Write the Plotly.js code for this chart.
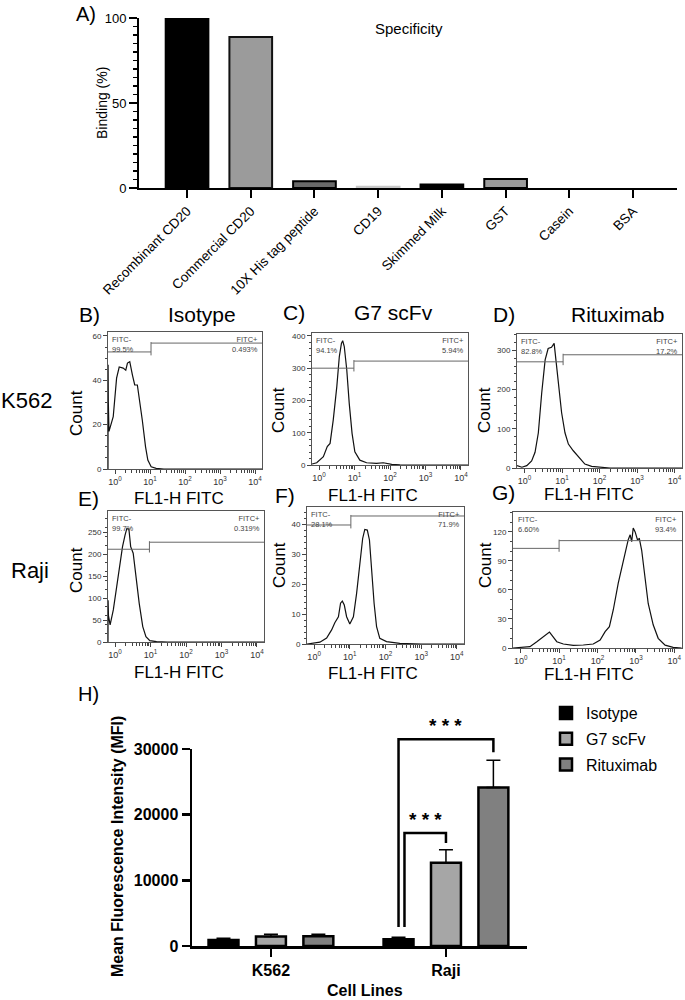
<!DOCTYPE html>
<html><head><meta charset="utf-8">
<script src="https://cdn.plot.ly/plotly-3.0.1.min.js"></script>
<style>html,body{margin:0;padding:0;background:#fff}#chart{width:685px;height:1000px}</style>
</head><body><div id="chart"></div>
<script>
// ---------- Panel A: specificity ----------
const specCategories = ['Recombinant CD20','Commercial CD20','10X His tag peptide','CD19','Skimmed Milk','GST','Casein','BSA'];
const specBinding = [100, 88.8, 3.9, 0.8, 2.0, 5.3, 0, 0];
const specTicks = [0, 50, 100];

// ---------- Panels B-G: flow cytometry histograms (FL1-H FITC vs Count) ----------
const histB_x = [0.631, 0.635, 0.645, 0.673, 0.89, 1.11, 1.32, 1.71, 2.03, 2.27, 2.64, 3.15, 3.66, 4.35, 5.06, 6.03, 7.46, 8.67, 10.8, 15.0, 25, 100, 1000, 15850];
const histB_y = [0, 47, 30, 17, 23.6, 41, 46, 45.5, 44.6, 47.8, 48.4, 42.4, 37.9, 37.9, 31, 22, 10, 4, 1, 0.3, 0, 0, 0, 0];
const histC_x = [0.631, 0.857, 1.32, 1.70, 2.04, 2.51, 3.16, 3.72, 4.27, 4.63, 5.13, 6.03, 7.08, 8.51, 10.2, 14.1, 21.9, 41.7, 64.6, 112, 191, 1000, 15850];
const histC_y = [3, 7, 26, 57, 67, 140, 243, 336, 377, 385, 367, 295, 191, 98, 41, 15, 7, 5, 7, 2, 0.5, 0, 0];
const histD_x = [0.631, 0.851, 1.15, 1.55, 1.91, 2.34, 2.88, 3.55, 4.27, 5.25, 6.17, 6.92, 7.50, 8.51, 9.77, 12.0, 14.8, 20.0, 24.5, 30.2, 40.7, 61.7, 102, 191, 15850];
const histD_y = [6, 2, 6, 18, 40, 90, 192, 276, 305, 308, 318, 276, 242, 208, 141, 90, 61, 44, 35, 23, 10, 4, 2, 0, 0];
const histE_x = [0.631, 0.635, 0.65, 0.724, 0.891, 1.11, 1.38, 1.62, 1.91, 2.14, 2.45, 2.75, 3.24, 3.89, 4.79, 6.03, 7.41, 9.55, 14.8, 30, 15850];
const histE_y = [0, 95, 60, 39, 73, 126, 179, 217, 243, 258, 257, 217, 202, 148, 88, 35, 12, 3, 0.7, 0, 0];
const histF_x = [0.631, 1.45, 2.24, 3.09, 3.80, 4.79, 5.50, 6.17, 7.00, 8.13, 10.0, 12.6, 15.5, 19.1, 22.9, 26.3, 30.9, 35.5, 40.7, 47.9, 56.2, 69.2, 107, 251, 1000, 15850];
const histF_y = [0, 0.6, 2, 4.7, 7.1, 9.1, 13.6, 14.3, 13, 9.1, 6.7, 9.1, 16.9, 28, 35.2, 38.2, 38, 34.7, 24.7, 13.6, 5.8, 1.9, 0.8, 0.2, 0, 0];
const histG_x = [0.631, 1.74, 2.63, 3.89, 5.01, 5.62, 6.46, 8.71, 12.9, 23.4, 42.7, 77.6, 117, 158, 204, 257, 347, 468, 575, 631, 708, 776, 851, 955, 1096, 1230, 1413, 1738, 2089, 2818, 3802, 5754, 9333, 15490];
const histG_y = [0, 1.4, 6.5, 11.7, 15.2, 16.5, 13.4, 6.5, 4.1, 2.8, 3.1, 4.1, 8.3, 16.9, 22, 39.3, 67, 91, 108, 112, 117, 110, 124, 120, 112, 113, 101, 70, 46, 24, 10, 3, 0.7, 0];

const histB_ticks = [0, 20, 40, 60];
const histC_ticks = [0, 100, 200, 300, 400];
const histD_ticks = [0, 100, 200, 300];
const histE_ticks = [0, 50, 100, 150, 200, 250];
const histF_ticks = [0, 10, 20, 30, 40];
const histG_ticks = [0, 30, 60, 90, 120];

const logTickVals = [1, 10, 100, 1000, 10000];
const logTickText = ['10<sup>0</sup>', '10<sup>1</sup>', '10<sup>2</sup>', '10<sup>3</sup>', '10<sup>4</sup>'];

const negPct = ['99.5%', '94.1%', '82.8%', '99.7%', '28.1%', '6.60%'];
const posPct = ['0.493%', '5.94%', '17.2%', '0.319%', '71.9%', '93.4%'];
const gateBoundary = [10.7, 9.6, 10.7, 9.3, 10.7, 10.0];
const gateNegLevel = [52.8, 300, 271, 211, 39.7, 103];
const gatePosLevel = [56.8, 322, 289, 227, 42.7, 111];

const histTitles = ['Isotype', 'G7 scFv', 'Rituximab'];
const rowLabels = ['K562', 'Raji'];

// ---------- Panel H: MFI ----------
const cellLines = ['K562', 'Raji'];
const mfiIsotype = [915, 1017];
const mfiIsotypeErr = [255, 305];
const mfiG7 = [1450, 12661];
const mfiG7Err = [330, 1983];
const mfiRituximab = [1480, 24153];
const mfiRituximabErr = [300, 4118];
const mfiTicks = [0, 10000, 20000, 30000];
const sigLabel = ['* * *', '* * *'];
const sigTo = [1, 2];              // compared against Isotype (series 0) in Raji
const sigTop = [17200, 31500];
const sigRightBase = [15700, 29500];
const sigLeftBase = [2900, 2900];

// ================= drawing =================
const W = 685, H = 1000;
const px = v => v / W, py = v => 1 - v / H;
const FONT = 'Arial, "Liberation Sans", Helvetica, sans-serif';
const traces = [];
const annotations = [];
const layout = {
  width: W, height: H, margin: {l: 0, r: 0, t: 0, b: 0},
  paper_bgcolor: '#fff', plot_bgcolor: 'rgba(0,0,0,0)',
  font: {family: FONT, color: '#000'},
  showlegend: true, hovermode: false
};
function ann(text, x, y, size, opts) {
  annotations.push(Object.assign({text, x: px(x), y: py(y), xref: 'paper', yref: 'paper', showarrow: false,
    xanchor: 'center', yanchor: 'middle', font: {size, family: FONT, color: '#000'}}, opts || {}));
}

// Panel A
const specFill = ['#000000', '#9b9b9b', '#6a6a6a', '#d0d0d0', '#000000', '#9b9b9b', 'rgba(0,0,0,0)', 'rgba(0,0,0,0)'];
const specLine = ['#000000', '#111111', '#000000', '#c8c8c8', '#000000', '#000000', 'rgba(0,0,0,0)', 'rgba(0,0,0,0)'];
traces.push({type: 'bar', x: specCategories, y: specBinding, xaxis: 'x', yaxis: 'y', width: 0.67,
  marker: {color: specFill, line: {color: specLine, width: 2}}, showlegend: false});
layout.xaxis = {domain: [px(139), px(677)], anchor: 'y', type: 'category', range: [-0.754, 7.69],
  showline: true, linecolor: '#000', linewidth: 2, ticks: 'outside', ticklen: 8, tickwidth: 2, tickcolor: '#000',
  tickangle: -45, tickfont: {size: 13.5}, showgrid: false, zeroline: false};
layout.yaxis = {domain: [py(188), py(18)], anchor: 'x', range: [0, 100], tickmode: 'array', tickvals: specTicks,
  showline: true, linecolor: '#000', linewidth: 2, ticks: 'outside', ticklen: 8, tickwidth: 2, tickcolor: '#000',
  tickfont: {size: 13}, showgrid: false, zeroline: false,
  minor: {dtick: 5, ticks: 'outside', ticklen: 4, tickwidth: 1.5, tickcolor: '#000', showgrid: false}};
ann('A)', 86, 14, 20);
ann('Specificity', 409, 28, 15);
ann('Binding (%)', 102, 103, 14, {textangle: -90});

// Histograms
const histPanels = [
  {xs: histB_x, ys: histB_y, ticks: histB_ticks, yTop: 61.8, box: [108, 262, 332, 469]},
  {xs: histC_x, ys: histC_y, ticks: histC_ticks, yTop: 409, box: [312, 468, 333, 465]},
  {xs: histD_x, ys: histD_y, ticks: histD_ticks, yTop: 342, box: [517, 682, 334, 468]},
  {xs: histE_x, ys: histE_y, ticks: histE_ticks, yTop: 298, box: [108, 264, 511, 642]},
  {xs: histF_x, ys: histF_y, ticks: histF_ticks, yTop: 45.7, box: [307, 464, 507, 644]},
  {xs: histG_x, ys: histG_y, ticks: histG_ticks, yTop: 140.6, box: [513, 682, 512, 648]}
];
const logRange = [-0.2, 4.2];
const minorLog = [];
[1, 10, 100, 1000].forEach(d => { for (let k = 2; k <= 9; k++) minorLog.push(d * k); });
histPanels.forEach((p, i) => {
  const n = i + 2, xa = 'x' + n, ya = 'y' + n;
  const [x0, x1, y0, y1] = p.box;
  layout['xaxis' + n] = {domain: [px(x0), px(x1)], anchor: ya, type: 'log', range: logRange,
    tickmode: 'array', tickvals: logTickVals, ticktext: logTickText, ticks: 'outside', ticklen: 4, tickwidth: 1,
    tickcolor: '#444', tickfont: {size: 9, color: '#333'}, showline: true, mirror: true, linecolor: '#555', linewidth: 1,
    showgrid: false, zeroline: false,
    minor: {tickmode: 'array', tickvals: minorLog, ticks: 'outside', ticklen: 2.5, tickwidth: 1, tickcolor: '#444', showgrid: false}};
  layout['yaxis' + n] = {domain: [py(y1), py(y0)], anchor: xa, range: [0, p.yTop], tickmode: 'array', tickvals: p.ticks,
    ticks: 'outside', ticklen: 4, tickwidth: 1, tickcolor: '#444', tickfont: {size: 8, color: '#333'},
    showline: true, mirror: true, linecolor: '#555', linewidth: 1, showgrid: false, zeroline: false,
    minor: {ticks: 'outside', ticklen: 2.5, tickwidth: 1, tickcolor: '#444', showgrid: false, nticks: 5}};
  traces.push({type: 'scatter', mode: 'lines', x: p.xs, y: p.ys, xaxis: xa, yaxis: ya,
    line: {color: '#111', width: 1.2}, showlegend: false});
  // gates
  const xmin = Math.pow(10, logRange[0]), xmax = Math.pow(10, logRange[1]);
  const b = gateBoundary[i], capPad = p.yTop * 0.025;
  traces.push({type: 'scatter', mode: 'lines', xaxis: xa, yaxis: ya, showlegend: false,
    x: [xmin, b, null, b, b, null, b, xmax],
    y: [gateNegLevel[i], gateNegLevel[i], null, gateNegLevel[i] - capPad, gatePosLevel[i] + capPad * 0.3, null, gatePosLevel[i], gatePosLevel[i]],
    line: {color: '#666', width: 1}});
  annotations.push({text: 'FITC-<br>' + negPct[i], xref: xa + ' domain', yref: ya + ' domain', x: 0.015, y: 0.995,
    xanchor: 'left', yanchor: 'top', align: 'left', showarrow: false, font: {size: 7.5, color: '#444', family: FONT}});
  annotations.push({text: 'FITC+<br>' + posPct[i], xref: xa + ' domain', yref: ya + ' domain', x: 0.985, y: 0.995,
    xanchor: 'right', yanchor: 'top', align: 'right', showarrow: false, font: {size: 7.5, color: '#444', family: FONT}});
});
// histogram titles, letters, axis labels
ann('B)', 89, 315, 21); ann('C)', 294, 313, 21); ann('D)', 504, 315, 21);
ann('E)', 88, 498, 21); ann('F)', 285, 495, 21); ann('G)', 503, 492, 21);
ann(histTitles[0], 202, 315, 21); ann(histTitles[1], 393, 313, 21); ann(histTitles[2], 617, 315, 21);
[[179, 498], [373, 495], [589, 494], [179, 672], [373, 673], [589, 674]].forEach(([x, y]) => ann('FL1-H FITC', x, y, 17));
[[76, 413], [279, 410], [485, 410], [76, 570], [279, 565], [485, 565]].forEach(([x, y]) => ann('Count', x, y, 17, {textangle: -90}));
ann(rowLabels[0], 26, 400, 22); ann(rowLabels[1], 30, 570, 22);

// Panel H
const barW = 0.171, slot = 0.271;
const hSeries = [
  {name: 'Isotype', y: mfiIsotype, err: mfiIsotypeErr, color: '#000000'},
  {name: 'G7 scFv', y: mfiG7, err: mfiG7Err, color: '#a6a6a6'},
  {name: 'Rituximab', y: mfiRituximab, err: mfiRituximabErr, color: '#808080'}
];
const hX = cellLines.map((c, i) => i);
hSeries.forEach((s, k) => {
  traces.push({type: 'bar', name: s.name, legendgroup: s.name, x: hX, y: s.y, xaxis: 'x8', yaxis: 'y8',
    width: barW, offset: (k - 1) * slot - barW / 2,
    marker: {color: s.color, line: {color: '#000', width: 2.5}},
    error_y: {type: 'data', symmetric: false, array: s.err, arrayminus: s.err.map(() => 0), color: '#000', thickness: 1.5, width: 7}});
});
const hBottom = 946, hTop = 749, hExtTop = 700;
layout.xaxis8 = {domain: [px(192), px(527)], anchor: 'y8', range: [-0.451, 1.463], tickmode: 'array', tickvals: hX, ticktext: cellLines,
  showline: true, linecolor: '#000', linewidth: 2.5, ticks: 'outside', ticklen: 8, tickwidth: 2.5, tickcolor: '#000',
  tickfont: {size: 16, weight: 700}, showgrid: false, zeroline: false};
layout.yaxis8 = {domain: [py(hBottom), py(hTop)], anchor: 'x8', range: [0, 30000], tickmode: 'array', tickvals: mfiTicks,
  tickformat: 'd', showline: true, linecolor: '#000', linewidth: 2.5, ticks: 'outside', ticklen: 8, tickwidth: 2.5, tickcolor: '#000',
  tickfont: {size: 16, weight: 700}, showgrid: false, zeroline: false};
// invisible extension axis so significance brackets can rise above the y-axis top
layout.yaxis9 = {domain: [py(hBottom), py(hExtTop)], anchor: 'x8', visible: false,
  range: [0, 30000 * (hBottom - hExtTop) / (hBottom - hTop)], showgrid: false, zeroline: false};
const leftShift = [0.034, 0];
sigTo.forEach((to, j) => {
  const xl = 1 - slot + leftShift[j], xr = 1 + (to - 1) * slot;
  traces.push({type: 'scatter', mode: 'lines', xaxis: 'x8', yaxis: 'y9', showlegend: false,
    x: [xl, xl, xr, xr], y: [sigLeftBase[j], sigTop[j], sigTop[j], sigRightBase[j]],
    line: {color: '#000', width: 2.5}});
  annotations.push({text: sigLabel[j], xref: 'x8', yref: 'y9', x: (xl + xr) / 2, y: sigTop[j], yanchor: 'bottom', yshift: 1,
    showarrow: false, font: {size: 19, weight: 700, family: FONT, color: '#000'}});
});
ann('H)', 88, 694, 20);
ann('Mean Fluorescence Intensity (MFI)', 117, 847, 16, {textangle: -90, font: {size: 16, weight: 700, family: FONT, color: '#000'}});
ann('Cell Lines', 365, 990, 16, {font: {size: 16, weight: 700, family: FONT, color: '#000'}});
layout.legend = {x: px(546), y: py(696), xanchor: 'left', yanchor: 'top', font: {size: 16, family: FONT},
  bgcolor: 'rgba(0,0,0,0)', tracegroupgap: 2, traceorder: 'grouped'};

layout.annotations = annotations;
Plotly.newPlot('chart', traces, layout, {displayModeBar: false, staticPlot: true});
</script>
</body></html>
